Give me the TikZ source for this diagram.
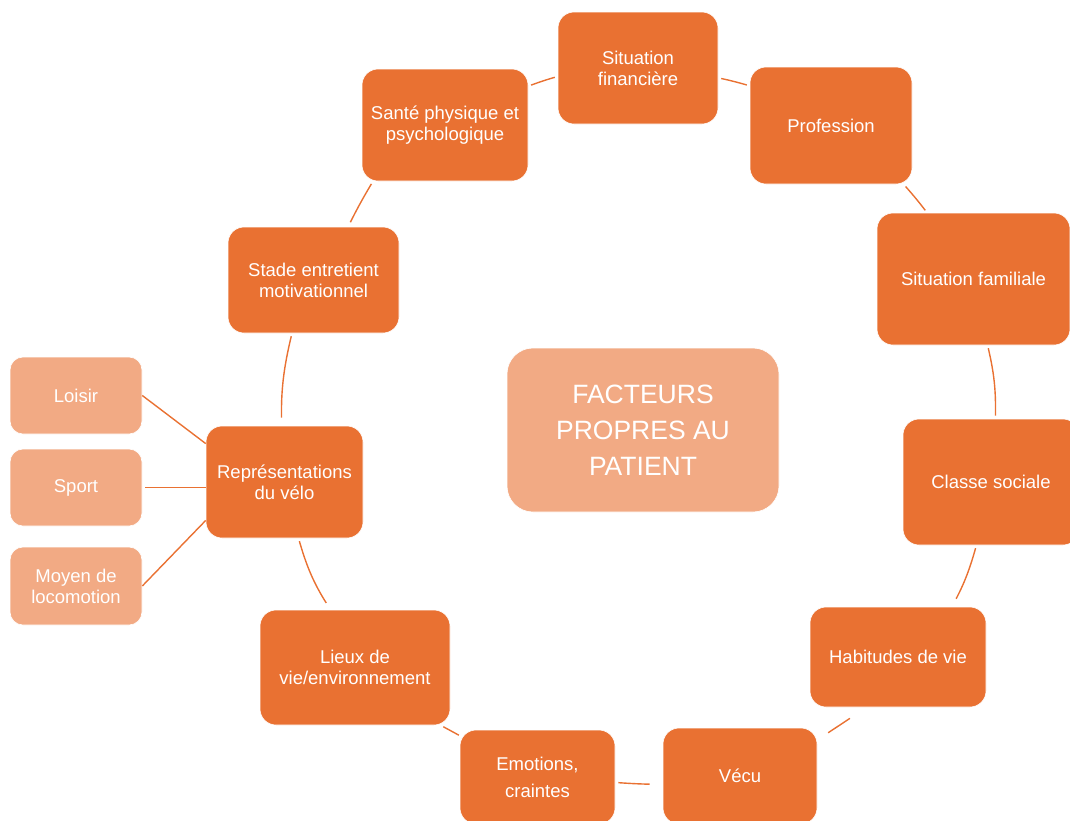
\documentclass[tikz,border=0pt]{standalone}
\usepackage{fontspec}
\setmainfont{Liberation Sans}
\usepackage{xcolor}
\usepackage{tikz}
\usetikzlibrary{positioning}

\definecolor{ringorange}{HTML}{E97132}
\definecolor{paleorange}{HTML}{F2AA84}

\begin{document}
\begin{tikzpicture}[x=1pt, y=-1pt,
    factor/.style={draw=white, line width=0.6pt, fill=ringorange, rounded corners=16pt,
      text=white, align=center, inner sep=0pt, font=\fontsize{18.5}{21}\selectfont},
    usage/.style={factor, fill=paleorange, rounded corners=13pt},
    link/.style={draw=ringorange, line width=1.4pt, shorten >=3pt, shorten <=3pt}]
    \useasboundingbox (0,0) rectangle (1070,820);

    % centre
    \node[factor, fill=paleorange, rounded corners=26pt, minimum width=272pt, minimum height=164pt,
      font=\fontsize{26.5}{36}\selectfont] (patient) at (643,430) {FACTEURS\\PROPRES AU\\PATIENT};

    % factors round the centre
    \node[factor, minimum width=160pt, minimum height=112pt] (finance) at (638,68) {Situation\\financière};
    \node[factor, minimum width=162pt, minimum height=117pt] (job) at (831,125.5) {Profession};
    \node[factor, minimum width=193pt, minimum height=132pt] (family) at (973.5,279) {Situation familiale};
    \node[factor, minimum width=176pt, minimum height=126pt] (social) at (991,482) {Classe sociale};
    \node[factor, minimum width=176pt, minimum height=100pt] (habits) at (898,657) {Habitudes de vie};
    \node[factor, minimum width=154pt, minimum height=96pt] (lived) at (740,776) {Vécu};
    \node[factor, minimum width=155pt, minimum height=94pt, font=\fontsize{18.5}{27}\selectfont] (fears) at (537.5,777) {Emotions,\\craintes};
    \node[factor, minimum width=190pt, minimum height=115pt] (places) at (355,667.5) {Lieux de\\vie/environnement};
    \node[factor, minimum width=157pt, minimum height=112pt] (bike) at (284.5,482) {Représentations\\du vélo};
    \node[factor, minimum width=171pt, minimum height=106pt] (stage) at (313.5,280) {Stade entretient\\motivationnel};
    \node[factor, minimum width=166pt, minimum height=112pt] (health) at (445,125) {Santé physique et\\psychologique};

    % uses of the bike
    \node[usage, minimum width=132pt, minimum height=77pt] (leisure) at (76,395.5) {Loisir};
    \node[usage, minimum width=132pt, minimum height=77pt] (sport) at (76,487.5) {Sport};
    \node[usage, minimum width=132pt, minimum height=78pt] (transport) at (76,586) {Moyen de\\locomotion};

    % ring links
    \draw[link] (health.25) to[bend left=2] (finance.186);
    \draw[link] (finance.353) to[bend left=2] (job.154);
    \draw[link] (job.321) to[bend left=2] (family.125);
    \draw[link] (family.282) to[bend left=7] (social.86);
    \draw[link, shorten >=9pt] (social.257) to[bend left=6] (habits.43);
    \draw[link, shorten <=20pt, shorten >=13pt] (habits.238) -- (lived.25);
    \draw[link, shorten <=13pt] (lived.186) to[bend left=2] (fears.356);
    \draw[link, shorten <=1pt] (fears.152) -- (places.326);
    \draw[link, shorten <=8pt] (places.113) to[bend left=8] (bike.284);
    \draw[link, shorten <=8pt] (bike.93) to[bend left=7] (stage.248);
    \draw[link, shorten <=5pt] (stage.57) to[bend left=2] (health.218);

    % spokes to the uses
    \draw[link, shorten >=0pt, shorten <=0pt] (leisure.east) -- (bike.154);
    \draw[link, shorten >=0pt] (sport.east) -- (sport.east -| bike.west);
    \draw[link, shorten >=0pt, shorten <=0pt] (transport.east) -- (bike.206);
\end{tikzpicture}
\end{document}
